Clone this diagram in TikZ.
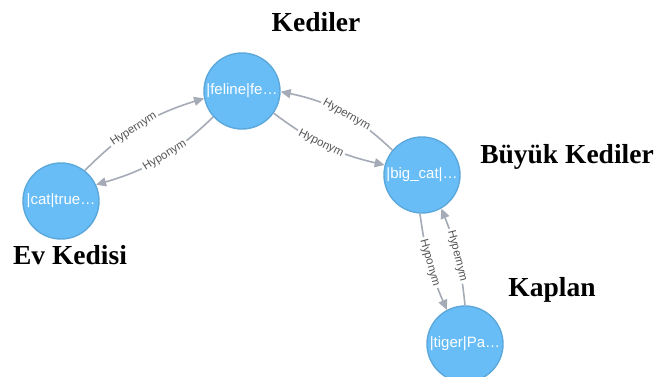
\documentclass[tikz,border=0pt]{standalone}
\usepackage{fontspec}
\setmainfont{Liberation Serif}
\newfontfamily\nodefont{Liberation Sans}
\usetikzlibrary{arrows.meta}
\definecolor{nodefill}{HTML}{68BDF6}
\definecolor{nodeborder}{HTML}{5CA8DB}
\definecolor{edgecol}{HTML}{A5ABB6}
\definecolor{elabel}{HTML}{555555}
\begin{document}
\begin{tikzpicture}[x=1pt,y=-1pt,
  entity/.style={circle, fill=nodefill, draw=nodeborder, line width=1.4pt, minimum size=76pt, inner sep=0pt, text=white, font=\nodefont\fontsize{15}{15}\selectfont},
  rel/.style={draw=edgecol, line width=1.6pt, -{Triangle[length=10pt,width=9pt]}},
  rlabel/.style={sloped, fill=white, inner sep=2pt, text=elabel, font=\nodefont\fontsize{11.5}{11.5}\selectfont},
  title/.style={font=\bfseries\fontsize{27.5}{28}\selectfont, text=black}]
\clip (0,0) rectangle (664,376);
\fill[white] (0,0) rectangle (664,376);
\node[entity] (feline) at (242,91) {\raisebox{-3pt}{|feline|fe…}};
\node[entity] (cat) at (61,201) {\raisebox{-4pt}{|cat|true…}};
\node[entity] (bigcat) at (422,175) {\raisebox{-3pt}{|big\_cat|…}};
\node[entity] (tiger) at (465,344) {\raisebox{-4pt}{|tiger|Pa…}};
\draw[rel] (cat.52) to[bend left=14] node[rlabel,pos=0.45]{Hypernym} (feline.191);
\draw[rel] (feline.222) to[bend left=14] node[rlabel,pos=0.45]{Hyponym} (cat.25);
\draw[rel] (bigcat.140) to[bend right=16] node[rlabel,pos=0.45]{Hypernym} (feline.359);
\draw[rel] (feline.325) to[bend right=12] node[rlabel,pos=0.45]{Hyponym} (bigcat.165);
\draw[rel] (bigcat.267) to[bend right=8] node[rlabel]{Hyponym} (tiger.118);
\draw[rel] (tiger.90) to[bend right=8] node[rlabel]{Hypernym} (bigcat.300);
\node[title] (kediler) at (316,22) {Kediler};
\node[title] (buyuk) at (567,157) {Büyük Kediler};
\node[title] (ev) at (70,255) {Ev Kedisi};
\node[title] (kaplan) at (552,290) {Kaplan};
\end{tikzpicture}
\end{document}
